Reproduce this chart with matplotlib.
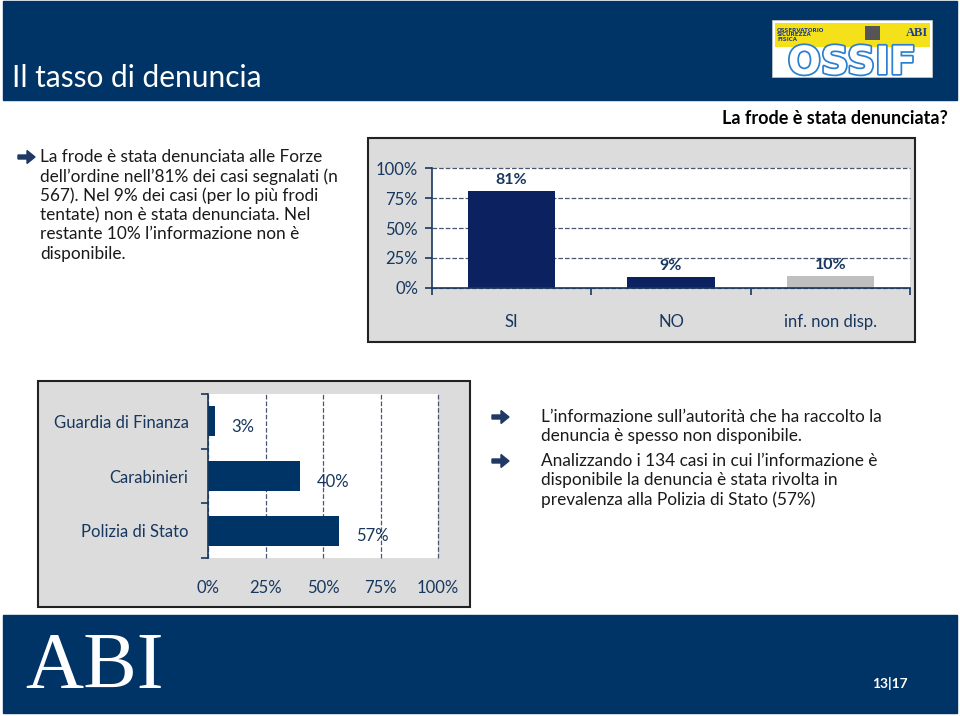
import matplotlib
matplotlib.use("Agg")
import matplotlib.pyplot as plt
from matplotlib.patches import Rectangle, FancyArrow
import matplotlib.patheffects as pe

# dati
cat_top = ["SI", "NO", "inf. non disp."]
val_top = [81, 9, 10]
col_top = ["#0b2160", "#0b2160", "#bfbfbf"]
yticks_top = [0, 25, 50, 75, 100]

cat_bot = ["Guardia di Finanza", "Carabinieri", "Polizia di Stato"]
val_bot = [3, 40, 57]
xticks_bot = [0, 25, 50, 75, 100]

testo_sx = ["La frode è stata denunciata alle Forze",
            "dell\u2019ordine nell\u201981% dei casi segnalati (n",
            "567). Nel 9% dei casi (per lo più frodi",
            "tentate) non è stata denunciata. Nel",
            "restante 10% l\u2019informazione non è",
            "disponibile."]
testo_dx = [["L\u2019informazione sull\u2019autorità che ha raccolto la",
             "denuncia è spesso non disponibile."],
            ["Analizzando i 134 casi in cui l\u2019informazione è",
             "disponibile la denuncia è stata rivolta in",
             "prevalenza alla Polizia di Stato (57%)"]]

W, H = 960, 716
NAVY = "#003366"
TXT = "#17375e"
FONT = "Lato"
plt.rcParams["font.family"] = [FONT, "DejaVu Sans"]


def px(x0, y0, x1, y1):
    return [x0 / W, 1 - y1 / H, (x1 - x0) / W, (y1 - y0) / H]


def rect(x0, y0, x1, y1, **kw):
    fig.patches.append(Rectangle((x0 / W, 1 - y1 / H), (x1 - x0) / W, (y1 - y0) / H,
                                 transform=fig.transFigure, zorder=-5, **kw))


def ftext(x, y, s, **kw):
    fig.text(x / W, 1 - y / H, s, **kw)


def freccia(x, y):
    # freccia piena, coordinate in pixel (1 pollice = 100 px)
    fig.patches.append(FancyArrow(x / 100, (H - y) / 100, 0.17, 0, width=0.04,
                                  head_width=0.13, head_length=0.08,
                                  length_includes_head=True, color="#1f3864",
                                  transform=fig.dpi_scale_trans))


fig = plt.figure(figsize=(9.6, 7.16), dpi=100)

# fasce blu
rect(3, 1, 957, 100, color=NAVY)
rect(3, 615, 957, 713, color=NAVY)
ftext(12, 78, "Il tasso di denuncia", color="white", fontsize=21.5, va="center")

# logo OSSIF (semplificato)
rect(772, 20, 932, 77, facecolor="white", edgecolor="#cccccc", lw=0.5)
rect(775, 23, 930, 47, facecolor="#f5e11a", edgecolor="none")
ftext(777, 35, "OSSERVATORIO\nSICUREZZA\nFISICA", fontsize=4, fontweight="bold",
      color="#1f3d8c", va="center", linespacing=0.9, family="DejaVu Sans")
ftext(906, 33, "ABI", fontsize=9, fontweight="bold", color="#1f3d8c", va="center",
      family="Liberation Serif")
rect(865, 26, 880, 40, facecolor="#555555", edgecolor="none")
t = fig.text(852 / W, 1 - 63 / H, "OSSIF", fontsize=28, fontweight="bold", color="white",
             ha="center", va="center", family="DejaVu Sans")
t.set_path_effects([pe.Stroke(linewidth=2.5, foreground="#2a7fd0"), pe.Normal()])

ftext(25, 668, "ABI", fontsize=58, color="white", va="center", family="Liberation Serif")
ftext(890, 683, "13|17", fontsize=10, fontweight="bold", color="white", ha="center",
      va="center")

# testo di sinistra
freccia(18, 157)
for i, riga in enumerate(testo_sx):
    ftext(40, 157 + i * 19.3, riga, fontsize=12.4, color="#1a1a1a", va="center")

ftext(948, 118, "La frode è stata denunciata?", fontsize=13, fontweight="bold",
      ha="right", va="center", color="black")

# grafico in alto
rect(368, 138, 915, 342, facecolor="#dcdcdc", edgecolor="#222222", lw=1.5)
ax1 = fig.add_axes(px(432, 168, 910, 288))
ax1.set_facecolor("white")
xs = [i + 0.5 for i in range(len(cat_top))]
ax1.bar(xs, [v / 100 for v in val_top], width=0.55, color=col_top, zorder=3)
for x, v in zip(xs, val_top):
    ax1.annotate(f"{v}%", (x, v / 100), xytext=(0, 3), textcoords="offset points",
                 ha="center", va="bottom", fontsize=11.5, fontweight="bold", color=TXT,
                 zorder=4)
ax1.set_xlim(0, 3)
ax1.set_ylim(0, 1)
ax1.set_yticks([v / 100 for v in yticks_top])
ax1.set_yticklabels([f"{v}%" for v in yticks_top], fontsize=12, color=TXT)
ax1.set_xticks(range(4))
ax1.set_xticklabels([])
ax1.set_xticks(xs, minor=True)
ax1.set_xticklabels(cat_top, minor=True, fontsize=12, color=TXT)
ax1.tick_params(axis="x", which="major", length=5, color=TXT, width=1.2)
ax1.tick_params(axis="x", which="minor", length=0, pad=19)
ax1.tick_params(axis="y", length=5, color=TXT, width=1.2, pad=5)
ax1.yaxis.grid(True, linestyle="--", color="#4a5670", lw=0.9, zorder=1)
for s in ["top", "right"]:
    ax1.spines[s].set_visible(False)
for s in ["left", "bottom"]:
    ax1.spines[s].set_color(TXT)
    ax1.spines[s].set_linewidth(1.2)
    ax1.spines[s].set_zorder(5)
for g in ax1.get_ygridlines():
    g.set_clip_on(False)

# grafico in basso
rect(38, 381, 470, 607, facecolor="#dcdcdc", edgecolor="#222222", lw=1.5)
ax2 = fig.add_axes(px(208, 394, 438, 558))
ax2.set_facecolor("white")
ys = list(range(len(cat_bot)))
ax2.barh(ys, [v / 100 for v in val_bot], height=0.55, color=NAVY, zorder=3)
for y, v in zip(ys, val_bot):
    ax2.annotate(f"{v}%", (v / 100, y), xytext=(12, -4), textcoords="offset points",
                 ha="left", va="center", fontsize=12, color=TXT, zorder=4)
ax2.set_xlim(0, 1)
ax2.set_ylim(2.5, -0.5)
ax2.set_xticks([v / 100 for v in xticks_bot])
ax2.set_xticklabels([f"{v}%" for v in xticks_bot], fontsize=12, color=TXT)
ax2.tick_params(axis="x", length=0, pad=16)
ax2.set_yticks([-0.5, 0.5, 1.5, 2.5])
ax2.set_yticklabels([])
ax2.set_yticks(ys, minor=True)
ax2.set_yticklabels(cat_bot, minor=True, fontsize=12, color=TXT)
ax2.tick_params(axis="y", which="major", length=5, color=TXT, width=1.2)
ax2.tick_params(axis="y", which="minor", length=0, pad=14)
ax2.xaxis.grid(True, linestyle="--", color="#4a5670", lw=0.9, zorder=1)
for s in ["top", "right", "bottom"]:
    ax2.spines[s].set_visible(False)
ax2.spines["left"].set_color(TXT)
ax2.spines["left"].set_linewidth(1.2)
ax2.spines["left"].set_zorder(5)
for g in ax2.get_xgridlines():
    g.set_clip_on(False)

# testo di destra
y = 417
for blocco in testo_dx:
    freccia(492, y)
    for riga in blocco:
        ftext(541, y, riga, fontsize=12.4, color="#1a1a1a", va="center")
        y += 19.5
    y += 5

fig.savefig("out.png", dpi=100)
